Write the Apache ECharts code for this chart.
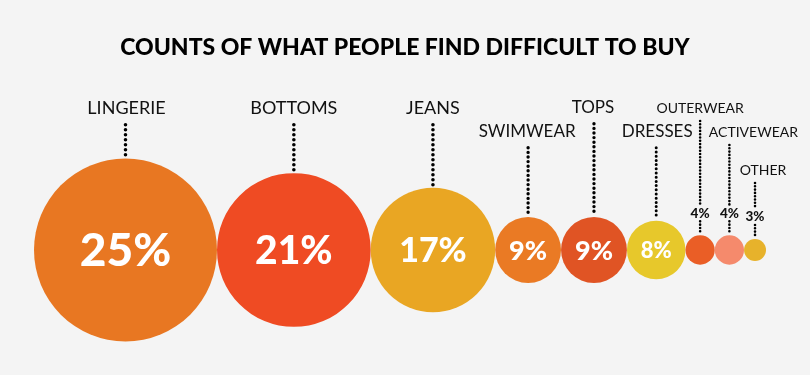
<!DOCTYPE html>
<html>
<head>
<meta charset="utf-8">
<script src="https://cdn.jsdelivr.net/npm/echarts@6/dist/echarts.min.js"></script>
<style>
html,body{margin:0;padding:0;background:#F4F4F4;}
#chart{width:810px;height:375px;}
</style>
</head>
<body>
<div id="chart"></div>
<script>
// ---- data ----
const titleText = 'COUNTS OF WHAT PEOPLE FIND DIFFICULT TO BUY';
const categories = ['LINGERIE', 'BOTTOMS', 'JEANS', 'SWIMWEAR', 'TOPS', 'DRESSES', 'OUTERWEAR', 'ACTIVEWEAR', 'OTHER'];
const values = [25, 21, 17, 9, 9, 8, 4, 4, 3];

// ---- styles / layout (kept apart from data) ----
const colors = ['#E87722', '#EF4B23', '#E9A623', '#EA7A24', '#E05424', '#E7C82B', '#EA5E26', '#F58A6C', '#E7B22B'];
const labelTier = [0, 0, 0, 1, 0, 1, 0, 1, 2];
const tierY = [108, 132, 170];
const labelDx = [1, 0, 0, -1, -1, 1, 0, 24, 8];
const catFont = [18, 18, 18, 17, 17, 17, 14, 14, 14];
const valFont = [46, 39, 34, 27, 27, 22, 13.5, 13.5, 13.5];
const dotW = [3.6, 3.6, 3.6, 3.4, 3.4, 3, 2.6, 2.6, 2.6];
const dotGap = [5, 5, 5, 4.6, 4.6, 4.2, 3.3, 3.3, 3.3];

// centres along the x axis in "radius units": circles touch each other
const centers = [];
let acc = 0;
values.forEach(v => { centers.push(acc + v); acc += 2 * v; });

const chart = echarts.init(document.getElementById('chart'));

function renderItem(params, api) {
  const i = api.value(3);
  const v = api.value(2);
  const p = api.coord([api.value(0), api.value(1)]);
  const r = api.size([v, 0])[0];
  const top = p[1] - r;
  const children = [];
  children.push({
    type: 'circle',
    shape: { cx: p[0], cy: p[1], r: r },
    style: { fill: colors[i] }
  });
  const big = v >= 8;
  const ly = tierY[labelTier[i]];
  const dotStart = ly + catFont[i] * 0.93;
  const dotStyle = { stroke: '#000', lineWidth: dotW[i], lineDash: [0, dotGap[i]], lineCap: 'round' };
  if (big) {
    children.push({
      type: 'line',
      shape: { x1: p[0], y1: dotStart, x2: p[0], y2: top - 2 },
      style: dotStyle
    });
    children.push({
      type: 'text',
      x: p[0], y: p[1] + 1,
      style: {
        text: v + '%', fill: '#fff', align: 'center', verticalAlign: 'middle',
        fontFamily: 'Lato', fontWeight: 900, fontSize: valFont[i]
      }
    });
  } else {
    children.push({
      type: 'line',
      shape: { x1: p[0], y1: dotStart, x2: p[0], y2: top - 30 },
      style: dotStyle
    });
    children.push({
      type: 'line',
      shape: { x1: p[0], y1: top - 14, x2: p[0], y2: top - 1 },
      style: dotStyle
    });
    children.push({
      type: 'text',
      x: p[0], y: top - 22,
      style: {
        text: v + '%', fill: '#111', align: 'center', verticalAlign: 'middle',
        fontFamily: 'Lato', fontWeight: 900, fontSize: valFont[i]
      }
    });
  }
  children.push({
    type: 'text',
    x: p[0] + labelDx[i], y: ly,
    style: {
      text: categories[i], fill: '#111', align: 'center', verticalAlign: 'middle',
      fontFamily: 'Lato', fontWeight: 'normal', fontSize: catFont[i]
    }
  });
  return { type: 'group', children: children };
}

chart.setOption({
  backgroundColor: '#F4F4F4',
  animation: false,
  title: {
    text: titleText, left: 'center', top: 31,
    textStyle: { fontFamily: 'Lato', fontWeight: 900, fontSize: 23, color: '#000' }
  },
  grid: { left: 34, width: 732, top: 150, height: 200 },
  xAxis: { type: 'value', min: 0, max: 200, show: false },
  yAxis: { type: 'value', min: -1, max: 1, show: false },
  series: [{
    type: 'custom',
    clip: false,
    renderItem: renderItem,
    data: values.map((v, i) => [centers[i], 0, v, i])
  }]
});
</script>
</body>
</html>
